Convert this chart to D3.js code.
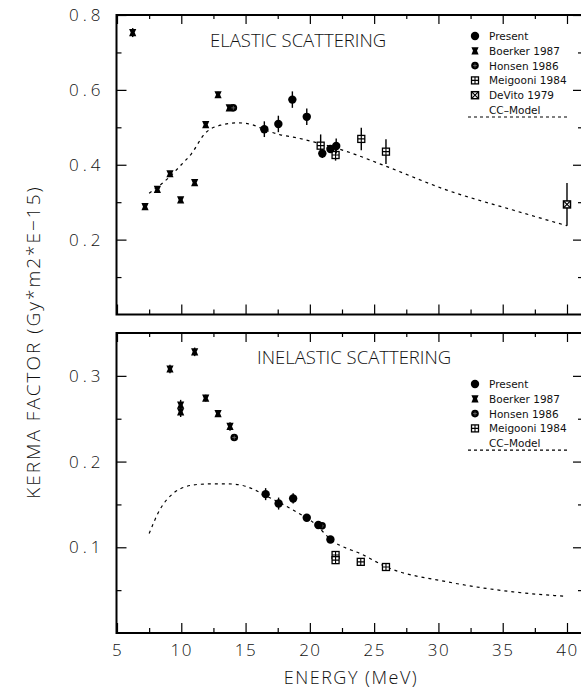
<!DOCTYPE html>
<html>
<head>
<meta charset="utf-8">
<script src="https://cdn.jsdelivr.net/npm/d3@7"></script>
<style>
  body { margin: 0; background: #fff; }
  svg { display: block; }
  .tick text { font-family: "Open Sans", "DejaVu Sans", sans-serif; font-weight: 300; font-size: 17px; fill: #111; letter-spacing: 4px; }
  .title { font-family: "Open Sans", "DejaVu Sans", sans-serif; font-weight: 300; font-size: 18.5px; fill: #111; }
  .legend text { font-family: "DejaVu Sans", sans-serif; font-size: 10.5px; fill: #111; }
</style>
</head>
<body>
<script>
// ---- data ----
const ccEnergyEl = [7.5, 8.5, 9.1, 10.0, 10.8, 11.85, 13.1, 14.4, 15.5, 16.6, 17.7, 18.7, 20.3, 22.9, 26, 30.6, 35.8, 40];
const ccElastic  = [0.324, 0.350, 0.368, 0.400, 0.430, 0.484, 0.506, 0.512, 0.507, 0.492, 0.480, 0.474, 0.461, 0.435, 0.395, 0.333, 0.279, 0.237];
const ccEnergyIn = [7.5, 8.34, 9.38, 10.4, 11.45, 12.5, 13.53, 14.57, 15.6, 16.6, 18.7, 20.5, 21.56, 24.16, 25.97, 30.6, 35.8, 39.7];
const ccInelastic = [0.116, 0.144, 0.163, 0.171, 0.1735, 0.174, 0.174, 0.1727, 0.1677, 0.160, 0.1435, 0.126, 0.110, 0.091, 0.077, 0.060, 0.048, 0.043];

// [energy, value, error]
const elPresent  = [[16.46, 0.495, 0.021], [17.55, 0.509, 0.022], [18.64, 0.574, 0.022], [19.76, 0.528, 0.022], [20.97, 0.430, 0.012], [21.6, 0.442, 0.010], [22.05, 0.450, 0.020]];
const elBoerker  = [[6.22, 0.753, 0.012], [7.18, 0.288, 0.006], [8.14, 0.334, 0.006], [9.12, 0.376, 0.006], [9.95, 0.306, 0.006], [11.04, 0.352, 0.006], [11.9, 0.507, 0.008], [12.86, 0.587, 0.008], [13.73, 0.552, 0.006]];
const elHonsen   = [[14.05, 0.552, 0.005]];
const elMeigooni = [[20.84, 0.451, 0.030], [22.0, 0.426, 0.015], [24.0, 0.469, 0.030], [25.92, 0.435, 0.033]];
const elDeVito   = [[40, 0.294, 0.057]];

const inPresent  = [[16.56, 0.162, 0.007], [17.57, 0.151, 0.007], [18.7, 0.157, 0.006], [19.76, 0.1345, 0.004], [20.66, 0.126, 0.004], [21.6, 0.109, 0.003]];
const inBoerker  = [[9.12, 0.308, 0.005], [9.95, 0.266, 0.006], [9.95, 0.258, 0.006], [11.04, 0.328, 0.005], [11.9, 0.274, 0.004], [12.86, 0.256, 0.004], [13.79, 0.241, 0.005]];
const inHonsen   = [[14.12, 0.228, 0.003], [20.95, 0.125, 0.003]];
const inMeigooni = [[22.0, 0.091, 0.004], [22.0, 0.085, 0.003], [23.96, 0.083, 0.002], [25.92, 0.077, 0.002]];

const xMajor = [5, 10, 15, 20, 25, 30, 35, 40];
const xMinor = [7.5, 12.5, 17.5, 22.5, 27.5, 32.5, 37.5];
const legendTop = ['Present', 'Boerker 1987', 'Honsen 1986', 'Meigooni 1984', 'DeVito 1979'];
const legendBottom = ['Present', 'Boerker 1987', 'Honsen 1986', 'Meigooni 1984'];

// ---- layout ----
const W = 581, H = 688;
const left = 116.5, right = 582;

const svg = d3.select('body').append('svg').attr('width', W).attr('height', H);

const x = d3.scaleLinear().domain([5, 5 + (right - 117) / 12.857]).range([117, right]);

function marker(g, type, cx, cy) {
    if (type === 'Present') {
        g.append('circle').attr('cx', cx).attr('cy', cy).attr('r', 4.2).attr('fill', '#000');
    } else if (type.startsWith('Boerker')) {
        g.append('path').attr('transform', 'translate(' + cx + ',' + cy + ')')
            .attr('d', 'M-3.6,-3.6H3.6L2,0L3.6,3.6H-3.6L-2,0Z').attr('fill', '#000');
    } else if (type.startsWith('Honsen')) {
        g.append('circle').attr('cx', cx).attr('cy', cy).attr('r', 3.8).attr('fill', '#000');
        g.append('path').attr('d', `M${cx - 2},${cy}H${cx + 2}M${cx},${cy - 2}V${cy + 2}`)
            .attr('stroke', '#888').attr('stroke-width', 0.6);
    } else if (type.startsWith('Meigooni')) {
        g.append('rect').attr('x', cx - 3.5).attr('y', cy - 3.5).attr('width', 7).attr('height', 7)
            .attr('fill', '#fff').attr('stroke', '#000').attr('stroke-width', 1.3);
        g.append('path').attr('d', `M${cx - 3.5},${cy}H${cx + 3.5}M${cx},${cy - 3.5}V${cy + 3.5}`)
            .attr('stroke', '#000').attr('stroke-width', 1.1);
    } else {
        g.append('rect').attr('x', cx - 3.5).attr('y', cy - 3.5).attr('width', 7).attr('height', 7)
            .attr('fill', '#fff').attr('stroke', '#000').attr('stroke-width', 1.5);
        g.append('path').attr('d', `M${cx - 3},${cy - 3}L${cx + 3},${cy + 3}M${cx + 3},${cy - 3}L${cx - 3},${cy + 3}`)
            .attr('stroke', '#000').attr('stroke-width', 1.2);
    }
}

function panel(cfg) {
    const y = d3.scaleLinear().domain([0, cfg.ymax]).range([cfg.bottom, cfg.top]);
    const g = svg.append('g');

    // axes: ticks point inward on all four sides
    const fmt = d3.format('.1f');
    g.append('g').attr('transform', 'translate(' + left + ',0)')
        .call(d3.axisLeft(y).tickValues(cfg.yMajor).tickSize(-10).tickPadding(12).tickFormat(fmt));
    g.append('g').attr('transform', 'translate(' + left + ',0)')
        .call(d3.axisLeft(y).tickValues(cfg.yMinor).tickSize(-5).tickFormat(''));
    g.append('g').attr('transform', 'translate(' + right + ',0)')
        .call(d3.axisRight(y).tickValues(cfg.yMajor).tickSize(-9).tickFormat(''));
    g.append('g').attr('transform', 'translate(' + right + ',0)')
        .call(d3.axisRight(y).tickValues(cfg.yMinor).tickSize(-4).tickFormat(''));
    g.append('g').attr('transform', 'translate(0,' + cfg.top + ')')
        .call(d3.axisTop(x).tickValues(xMajor).tickSize(-9).tickFormat(''));
    g.append('g').attr('transform', 'translate(0,' + cfg.top + ')')
        .call(d3.axisTop(x).tickValues(xMinor).tickSize(-4).tickFormat(''));
    const bx = g.append('g').attr('transform', 'translate(0,' + cfg.bottom + ')')
        .call(d3.axisBottom(x).tickValues(xMajor).tickSize(-10).tickPadding(11)
            .tickFormat(cfg.xLabels ? d3.format('d') : ''));
    g.append('g').attr('transform', 'translate(0,' + cfg.bottom + ')')
        .call(d3.axisBottom(x).tickValues(xMinor).tickSize(-5).tickFormat(''));
    g.selectAll('.domain').remove();
    g.selectAll('.tick line').attr('stroke', '#000').attr('stroke-width', 1.2);
    bx.selectAll('.tick text').style('letter-spacing', '1.5px');

    g.append('rect').attr('x', left).attr('y', cfg.top)
        .attr('width', right - left).attr('height', cfg.bottom - cfg.top)
        .attr('fill', 'none').attr('stroke', '#000').attr('stroke-width', 2);

    // model curve
    const line = d3.line().x(d => x(d[0])).y(d => y(d[1])).curve(d3.curveMonotoneX);
    g.append('path').datum(d3.zip(cfg.ccE, cfg.ccV))
        .attr('d', line).attr('fill', 'none').attr('stroke', '#000')
        .attr('stroke-width', 1.2).attr('stroke-dasharray', '3,4');

    // data with error bars
    cfg.series.forEach(([name, pts]) => {
        pts.forEach(p => {
            g.append('line').attr('x1', x(p[0])).attr('x2', x(p[0]))
                .attr('y1', y(p[1] - p[2])).attr('y2', y(p[1] + p[2]))
                .attr('stroke', '#000').attr('stroke-width', 1.4);
            marker(g, name, x(p[0]), y(p[1]));
        });
    });

    g.append('text').attr('class', 'title').attr('x', cfg.titleX).attr('y', cfg.titleY).text(cfg.title);

    // legend
    const lg = g.append('g').attr('class', 'legend');
    cfg.legend.forEach((name, i) => {
        const cy = cfg.legY + i * cfg.legStep;
        marker(lg, name, 475, cy);
        lg.append('text').attr('x', 489).attr('y', cy + 4).text(name);
    });
    const cy = cfg.legY + cfg.legend.length * cfg.legStep;
    lg.append('text').attr('x', 489).attr('y', cy + 4).text('CC\u2013Model');
    lg.append('line').attr('x1', 468).attr('x2', 567).attr('y1', cy + 7).attr('y2', cy + 7)
        .attr('stroke', '#000').attr('stroke-width', 1.2).attr('stroke-dasharray', '3,3');
}

panel({
    top: 15, bottom: 314.5, ymax: 0.8,
    yMajor: [0.2, 0.4, 0.6, 0.8], yMinor: [0.1, 0.3, 0.5, 0.7],
    ccE: ccEnergyEl, ccV: ccElastic,
    series: [['Meigooni', elMeigooni], ['DeVito', elDeVito], ['Boerker', elBoerker], ['Honsen', elHonsen], ['Present', elPresent]],
    title: 'ELASTIC SCATTERING', titleX: 210, titleY: 47,
    legend: legendTop, legY: 36, legStep: 14.8, xLabels: false
});

panel({
    top: 333, bottom: 633, ymax: 0.35,
    yMajor: [0.1, 0.2, 0.3], yMinor: [0.05, 0.15, 0.25],
    ccE: ccEnergyIn, ccV: ccInelastic,
    series: [['Meigooni', inMeigooni], ['Boerker', inBoerker], ['Honsen', inHonsen], ['Present', inPresent]],
    title: 'INELASTIC SCATTERING', titleX: 257, titleY: 364,
    legend: legendBottom, legY: 384, legStep: 14.8, xLabels: true
});

svg.append('text').attr('class', 'title').attr('x', 351).attr('y', 684)
    .attr('text-anchor', 'middle').style('letter-spacing', '1.5px').style('font-size', '18px')
    .text('ENERGY (MeV)');
svg.append('text').attr('class', 'title')
    .attr('transform', 'translate(40,342) rotate(-90)')
    .attr('text-anchor', 'middle').style('letter-spacing', '2px').style('font-size', '19px')
    .text('KERMA FACTOR (Gy*m2*E\u221215)');
</script>
</body>
</html>
